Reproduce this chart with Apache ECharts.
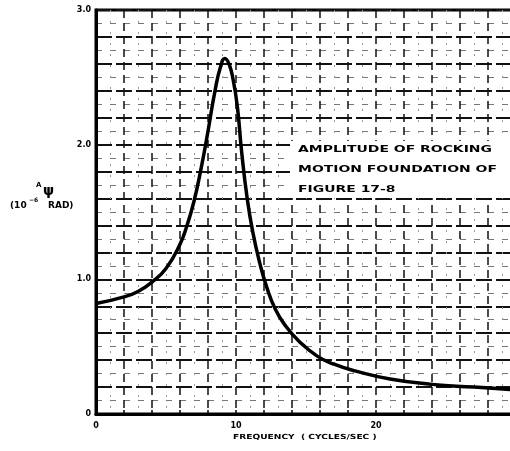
<!DOCTYPE html>
<html><head><meta charset="utf-8">
<script src="https://cdn.jsdelivr.net/npm/echarts@6/dist/echarts.min.js"></script>
<style>html,body{margin:0;padding:0;background:#fff}#c{width:510px;height:451px}</style>
</head><body><div id="c"></div>
<script>
const freq = [0, 2, 3, 4, 5, 6, 6.5, 7, 7.5, 8, 8.5, 8.9, 9.2, 9.5, 9.8, 10.1, 10.4, 10.8, 11.2, 11.7, 12.2, 12.8, 13.5, 14.5, 15.8, 17, 18.5, 21, 24, 27, 30];
const amp  = [0.82, 0.87, 0.91, 0.98, 1.08, 1.26, 1.40, 1.58, 1.82, 2.10, 2.40, 2.58, 2.64, 2.60, 2.48, 2.28, 1.95, 1.60, 1.35, 1.12, 0.94, 0.78, 0.66, 0.54, 0.43, 0.37, 0.32, 0.26, 0.22, 0.20, 0.18];
const xTickLabels = [0, 10, 20, 30];
const yTickLabels = [0, 1, 2, 3];
const noteLines = ['AMPLITUDE OF ROCKING', 'MOTION FOUNDATION OF', 'FIGURE 17-8'];
const xTitle = 'FREQUENCY  ( CYCLES/SEC )';

const chart = echarts.init(document.getElementById('c'));
chart.setOption({
  animation: false,
  backgroundColor: '#fff',
  grid: { left: 96, top: 10, width: 420, bottom: 37, show: true, borderColor: '#000', borderWidth: 3, backgroundColor: 'transparent',
    containLabel: false, outerBoundsMode: 'none' },
  xAxis: {
    type: 'value', min: 0, max: 30, interval: 2,
    axisLine: { show: true, lineStyle: { color: '#000', width: 3 } },
    axisTick: { show: true, inside: true, length: 4, lineStyle: { color: '#000', width: 1.5 } },
    axisLabel: { margin: 8, color: '#000', fontFamily: 'DejaVu Sans', fontWeight: 'bold', fontSize: 8,
      formatter: v => xTickLabels.indexOf(v) >= 0 ? String(v) : '', showMaxLabel: true },
    splitLine: { show: true, lineStyle: { color: '#111', width: 1.5, type: [8, 5] } },
    minorTick: { show: false, splitNumber: 2 },
    minorSplitLine: { show: true, lineStyle: { color: '#999', width: 1, type: [2, 9] } }
  },
  yAxis: {
    type: 'value', min: 0, max: 3, interval: 0.2,
    axisLine: { show: true, lineStyle: { color: '#000', width: 3 } },
    axisTick: { show: false },
    axisLabel: { margin: 5, color: '#000', fontFamily: 'DejaVu Sans', fontWeight: 'bold', fontSize: 8,
      formatter: v => { const r = Math.round(v); return (Math.abs(v - r) < 1e-6 && yTickLabels.indexOf(r) >= 0) ? (r === 0 ? '0' : r.toFixed(1)) : ''; } },
    splitLine: { show: true, lineStyle: { color: '#111', width: 1.8, type: [16, 4] } },
    minorTick: { show: false, splitNumber: 2 },
    minorSplitLine: { show: true, lineStyle: { color: '#777', width: 1, type: [6, 8] } }
  },
  series: [{
    type: 'line', data: freq.map((f, i) => [f, amp[i]]), smooth: true, showSymbol: false,
    lineStyle: { color: '#000', width: 3.5 }, z: 5
  }],
  graphic: [
    { type: 'rect', left: 290, top: 141, shape: { width: 220, height: 57 }, style: { fill: '#fff' }, z: 10 },
    { type: 'text', x: 298, y: 145, scaleX: 1.55, z: 11, style: { text: noteLines[0], font: 'bold 9px "DejaVu Sans"', fill: '#000' } },
    { type: 'text', x: 298, y: 165, scaleX: 1.55, z: 11, style: { text: noteLines[1], font: 'bold 9px "DejaVu Sans"', fill: '#000' } },
    { type: 'text', x: 298, y: 185, scaleX: 1.55, z: 11, style: { text: noteLines[2], font: 'bold 9px "DejaVu Sans"', fill: '#000' } },
    { type: 'text', x: 233, y: 434, scaleX: 1.3, z: 11, style: { text: xTitle, font: 'bold 7px "DejaVu Sans"', fill: '#000' } },
    { type: 'text', x: 36, y: 182, z: 11, style: { text: 'A', font: 'bold 7px "DejaVu Sans"', fill: '#000' } },
    { type: 'text', x: 43, y: 184, z: 11, style: { text: 'ψ', font: 'bold 14px "DejaVu Sans"', fill: '#000' } },
    { type: 'text', x: 10, y: 201, z: 11, style: { text: '(10', font: 'bold 9px "DejaVu Sans"', fill: '#000' } },
    { type: 'text', x: 29, y: 197, z: 11, style: { text: '−6', font: 'bold 6px "DejaVu Sans"', fill: '#000' } },
    { type: 'text', x: 48, y: 201, z: 11, style: { text: 'RAD)', font: 'bold 9px "DejaVu Sans"', fill: '#000' } }
  ]
});
</script></body></html>
